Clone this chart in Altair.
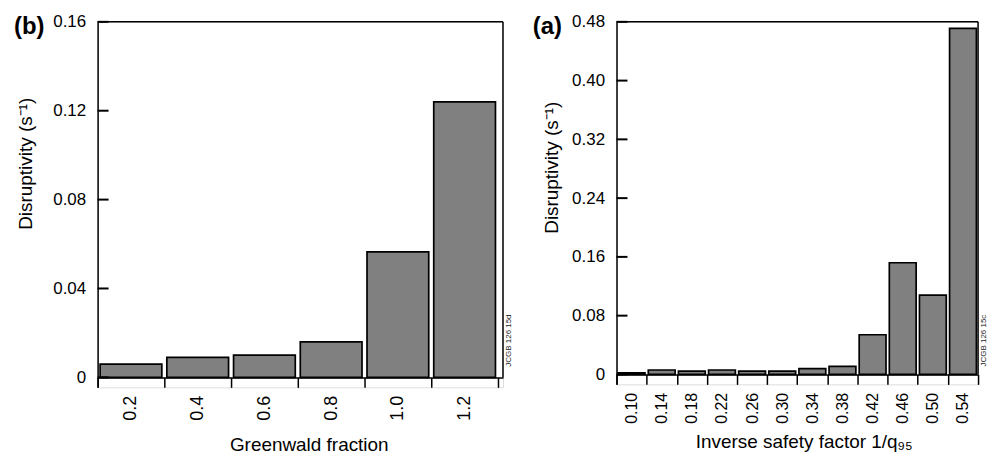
import altair as alt
import pandas as pd

# ---------------- data ----------------
# panel (b): Greenwald fraction
gw_centers = [0.2, 0.4, 0.6, 0.8, 1.0, 1.2]
gw_values = [0.006, 0.009, 0.010, 0.016, 0.0565, 0.124]
gw_edges = [0.1, 0.3, 0.5, 0.7, 0.9, 1.1, 1.3]
gw_yticks = [0, 0.04, 0.08, 0.12, 0.16]

# panel (a): inverse safety factor 1/q95
q_centers = [0.10, 0.14, 0.18, 0.22, 0.26, 0.30, 0.34, 0.38, 0.42, 0.46, 0.50, 0.54]
q_values = [0.002, 0.006, 0.0045, 0.006, 0.0045, 0.0045, 0.008, 0.011, 0.054, 0.152, 0.108, 0.471]
q_edges = [0.08, 0.12, 0.16, 0.20, 0.24, 0.28, 0.32, 0.36, 0.40, 0.44, 0.48, 0.52, 0.56]
q_yticks = [0, 0.08, 0.16, 0.24, 0.32, 0.40, 0.48]

FONT = "Liberation Sans"
BAR_FILL = "#808080"


def panel(centers, values, edges, yticks, half, frac, xdom, ydom, width, height,
          ext, xfmt, xtitle, ytitle, label, stamp, xlab_size, xtitle_x, ytitle_x, ytitle_y):
    df = pd.DataFrame({"c": centers, "v": values})
    centers_js = "[" + ",".join(str(c) for c in centers) + "]"
    is_center = f"indexof({centers_js}, datum.value) >= 0"

    xscale = alt.Scale(domain=xdom, nice=False, zero=False)
    yscale = alt.Scale(domain=ydom, nice=False, zero=False)

    xaxis = alt.Axis(
        values=edges + centers,
        labelExpr=f"{is_center} ? format(datum.value, '{xfmt}') : ''",
        tickOpacity={"condition": {"test": is_center, "value": 0}, "value": 1},
        labelAngle=270, labelAlign="right", labelBaseline="middle",
        labelFont=FONT, labelFontSize=xlab_size, labelColor="black",
        labelPadding=8, labelFlush=False, labelOverlap=False,
        tickSize=ext, tickColor="black", tickWidth=1.5,
        domainColor="black", domainWidth=1.5, offset=-ext, grid=False,
        title=xtitle, titleFont=FONT, titleFontSize=19, titleFontWeight="normal",
        titleColor="black", titleX=xtitle_x, titleY=73, titleAlign="center",
        titleBaseline="alphabetic",
    )
    yaxis = alt.Axis(
        values=yticks,
        labelExpr="datum.value == 0 ? '0' : format(datum.value, '.2f')",
        ticks=False, labelPadding=12, labelFont=FONT, labelFontSize=17,
        labelColor="black", labelFlush=False,
        domainColor="black", domainWidth=1.5, grid=False,
        title=ytitle, titleFont=FONT, titleFontSize=19, titleFontWeight="normal",
        titleColor="black", titleX=ytitle_x, titleY=ytitle_y, titleAngle=270,
        titleAlign="center", titleBaseline="middle",
    )

    bars = alt.Chart(df).transform_calculate(
        x1=f"datum.c - {half * frac}", x2=f"datum.c + {half * frac}"
    ).mark_bar(fill=BAR_FILL, stroke="black", strokeWidth=1.7).encode(
        x=alt.X("x1:Q", scale=xscale, axis=xaxis),
        x2="x2:Q",
        y=alt.Y("v:Q", scale=yscale, axis=yaxis),
        y2=alt.datum(0),
    )

    # inward-pointing y ticks, drawn as short rules in data coordinates
    tick_len = (xdom[1] - xdom[0]) * 11.0 / width
    tdf = pd.DataFrame({"t": yticks})
    ticks = alt.Chart(tdf).transform_calculate(
        a=f"{xdom[0]}", b=f"{xdom[0] + tick_len}"
    ).mark_rule(color="black", strokeWidth=2).encode(
        x=alt.X("a:Q", scale=xscale, axis=xaxis),
        x2="b:Q",
        y=alt.Y("t:Q", scale=yscale, axis=yaxis),
    )

    one = pd.DataFrame({"a": [0]})
    top = alt.Chart(one).mark_rule(color="black", strokeWidth=1.5).encode(
        x=alt.value(0), x2=alt.value(width), y=alt.value(0))
    right = alt.Chart(one).mark_rule(color="black", strokeWidth=1.5).encode(
        x=alt.value(width), y=alt.value(0), y2=alt.value(height - ext))

    lab = alt.Chart(one).mark_text(
        text=label, font=FONT, fontSize=24, fontWeight="bold", align="left",
        baseline="middle", color="black"
    ).encode(x=alt.value(-84), y=alt.value(5))

    st = alt.Chart(one).mark_text(
        text=stamp, font=FONT, fontSize=8, angle=270, align="center",
        baseline="middle", color="#222222"
    ).encode(x=alt.value(width + 6), y=alt.value(320))

    return alt.layer(bars, ticks, top, right, lab, st).properties(
        width=width, height=height)


left = panel(gw_centers, gw_values, gw_edges, gw_yticks, 0.1, 0.925,
             [0.1, 1.315], [-0.0045, 0.16], 407, 367, 10, ".1f",
             "Greenwald fraction", "Disruptivity (s\u207b\u00b9)", "(b)", "JCGB 126 15d",
             18, 212, -72, 142)

right = panel(q_centers, q_values, q_edges, q_yticks, 0.02, 0.89,
              [0.08, 0.56], [-0.01356, 0.48], 363, 364, 10, ".2f",
              "Inverse safety factor 1/q\u2089\u2085", "Disruptivity (s\u207b\u00b9)", "(a)",
              "JCGB 126 15c", 16, 188, -65, 146)

chart = alt.hconcat(left, right, spacing=114, bounds="flush").properties(
    padding={"left": 13, "top": 11, "right": 2, "bottom": 2}
).configure_view(stroke=None).configure(background="white")

chart.save("out.html", embed_options={"renderer": "svg", "actions": False})
